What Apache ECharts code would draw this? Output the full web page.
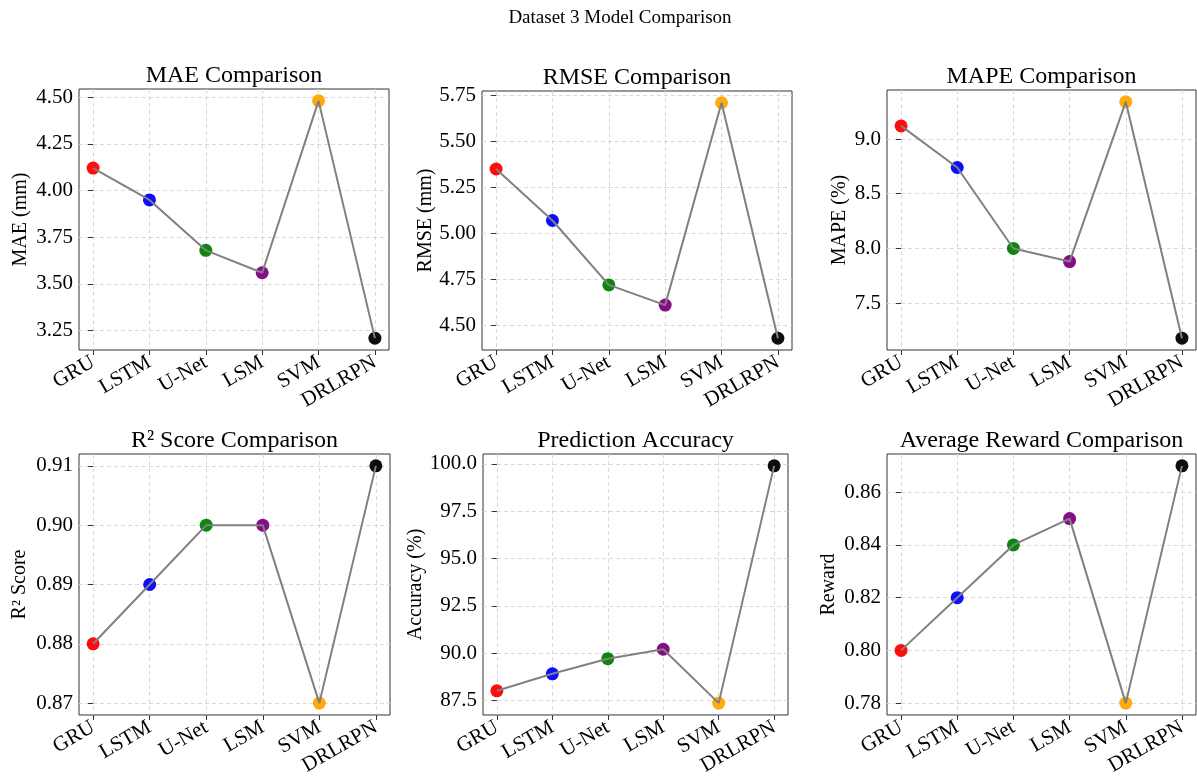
<!DOCTYPE html>
<html>
<head>
<meta charset="utf-8">
<script src="https://cdn.jsdelivr.net/npm/echarts@6/dist/echarts.min.js"></script>
<style>
html,body{margin:0;padding:0;background:#fff;}
#chart{width:1197px;height:778px;}
</style>
</head>
<body>
<div id="chart"></div>
<script>
// ---- data ----
const categories = ['GRU', 'LSTM', 'U-Net', 'LSM', 'SVM', 'DRLRPN'];
const maeValues = [4.12, 3.95, 3.68, 3.56, 4.48, 3.21];
const rmseValues = [5.35, 5.07, 4.72, 4.61, 5.71, 4.43];
const mapeValues = [9.12, 8.74, 8.00, 7.88, 9.34, 7.18];
const r2Values = [0.88, 0.89, 0.90, 0.90, 0.87, 0.91];
const accuracyValues = [88.0, 88.9, 89.7, 90.2, 87.35, 99.9];
const rewardValues = [0.80, 0.82, 0.84, 0.85, 0.78, 0.87];

const maeTicks = [3.25, 3.50, 3.75, 4.00, 4.25, 4.50];
const rmseTicks = [4.50, 4.75, 5.00, 5.25, 5.50, 5.75];
const mapeTicks = [7.5, 8.0, 8.5, 9.0];
const r2Ticks = [0.87, 0.88, 0.89, 0.90, 0.91];
const accuracyTicks = [87.5, 90.0, 92.5, 95.0, 97.5, 100.0];
const rewardTicks = [0.78, 0.80, 0.82, 0.84, 0.86];

const pointColors = ['#ff0000', '#0000ff', '#008000', '#800080', '#ffa500', '#000000'];

// ---- panels ----
const panels = [
  {title: 'MAE Comparison', yName: 'MAE (mm)', values: maeValues, ticks: maeTicks, dec: 2, nameGap: 48,
   grid: {left: 79, top: 89, width: 310, height: 261}},
  {title: 'RMSE Comparison', yName: 'RMSE (mm)', values: rmseValues, ticks: rmseTicks, dec: 2, nameGap: 45,
   grid: {left: 482, top: 91, width: 310, height: 259}},
  {title: 'MAPE Comparison', yName: 'MAPE (%)', values: mapeValues, ticks: mapeTicks, dec: 1, nameGap: 37,
   grid: {left: 887, top: 90, width: 309, height: 260}},
  {title: 'R\u00b2 Score Comparison', yName: 'R\u00b2 Score', values: r2Values, ticks: r2Ticks, dec: 2, nameGap: 49,
   grid: {left: 79, top: 454, width: 311, height: 261}},
  {title: 'Prediction Accuracy', yName: 'Accuracy (%)', values: accuracyValues, ticks: accuracyTicks, dec: 1, nameGap: 56,
   grid: {left: 483, top: 454, width: 305, height: 261}},
  {title: 'Average Reward Comparison', yName: 'Reward', values: rewardValues, ticks: rewardTicks, dec: 2, nameGap: 48,
   grid: {left: 887, top: 454, width: 309, height: 261}}
];

const FONT = 'Liberation Serif';
const xIdx = categories.map((c, i) => i);

const option = {
  backgroundColor: '#fff',
  animation: false,
  textStyle: {fontFamily: FONT},
  title: [{
    text: 'Dataset 3 Model Comparison', left: 620, top: 9, textAlign: 'center', padding: 0,
    textStyle: {fontFamily: FONT, fontSize: 19, fontWeight: 'normal', color: '#000'}
  }],
  grid: [], xAxis: [], yAxis: [], series: []
};

panels.forEach((p, k) => {
  const g = p.grid;
  const vmin = Math.min(...p.values), vmax = Math.max(...p.values);
  const pad = (vmax - vmin) * 0.05;
  option.title.push({
    text: p.title, left: g.left + g.width / 2, top: g.top - 25, textAlign: 'center', padding: 0,
    textStyle: {fontFamily: FONT, fontSize: 24, fontWeight: 'normal', color: '#000'}
  });
  option.grid.push({left: g.left, top: g.top, width: g.width, height: g.height,
    show: true, borderColor: '#333', borderWidth: 1, backgroundColor: 'transparent', containLabel: false});
  option.xAxis.push({
    type: 'value', gridIndex: k, min: -0.25, max: 5.25,
    axisLine: {show: false},
    axisTick: {show: true, length: 5, customValues: xIdx, lineStyle: {color: '#333', width: 1}},
    axisLabel: {customValues: xIdx, rotate: 30, margin: 11, color: '#000', fontSize: 21, fontFamily: FONT,
      formatter: v => categories[Math.round(v)]},
    splitLine: {show: true, lineStyle: {color: '#d9d9d9', type: [4, 3], width: 1}}
  });
  option.yAxis.push({
    type: 'value', gridIndex: k, min: vmin - pad, max: vmax + pad,
    name: p.yName, nameLocation: 'middle', nameGap: p.nameGap,
    nameTextStyle: {fontFamily: FONT, fontSize: 20, color: '#000'},
    axisLine: {show: false},
    axisTick: {show: true, length: 5, customValues: p.ticks, lineStyle: {color: '#333', width: 1}},
    axisLabel: {customValues: p.ticks, margin: 6, color: '#000', fontSize: 21, fontFamily: FONT,
      formatter: v => Number(v).toFixed(p.dec)},
    splitLine: {show: true, lineStyle: {color: '#d9d9d9', type: [4, 3], width: 1}}
  });
  option.series.push({
    type: 'scatter', xAxisIndex: k, yAxisIndex: k, symbolSize: 13, z: 2,
    itemStyle: {opacity: 0.95},
    data: p.values.map((v, i) => ({value: [i, v], itemStyle: {color: pointColors[i]}}))
  });
  option.series.push({
    type: 'line', xAxisIndex: k, yAxisIndex: k, showSymbol: false, z: 3,
    lineStyle: {color: '#808080', width: 2},
    data: p.values.map((v, i) => [i, v])
  });
});

const chart = echarts.init(document.getElementById('chart'), null, {renderer: 'canvas'});
chart.setOption(option);
</script>
</body>
</html>
